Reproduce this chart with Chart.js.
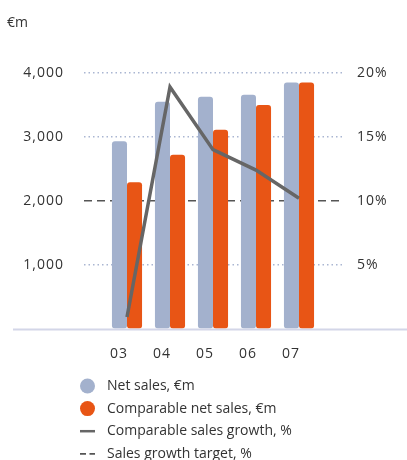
<!DOCTYPE html>
<html>
<head>
<meta charset="utf-8">
<script src="https://cdn.jsdelivr.net/npm/chart.js@4.4.1/dist/chart.umd.min.js"></script>
<style>
  html, body { margin: 0; padding: 0; background: #fff; }
  #wrap { position: relative; width: 407px; height: 460px; }
  #unit { position: absolute; left: 7px; top: 12px; font: 14px "Open Sans", sans-serif; color: #333; }
</style>
</head>
<body>
<div id="wrap">
  <canvas id="chart" width="407" height="460"></canvas>
  <div id="unit">€m</div>
</div>
<script>
// values
const years = ['03', '04', '05', '06', '07'];
const netSales = [2930, 3550, 3630, 3660, 3850];
const comparableNetSales = [2290, 2720, 3110, 3500, 3850];
const comparableGrowth = [0.9, 18.9, 14.0, 12.4, 10.2];
const growthTarget = [10, 10, 10, 10, 10];
const salesTicks = [1000, 2000, 3000, 4000];
const percentTicks = [5, 10, 15, 20];

const blue = '#a3b1cd';
const orange = '#e85515';
const gray = '#666666';

// empty category at each end so the target line runs past the bars
const pad = arr => [null, ...arr, null];
const padEdge = arr => [arr[0], ...arr, arr[arr.length - 1]];

Chart.defaults.font.family = '"Open Sans", sans-serif';
Chart.defaults.font.size = 14;
Chart.defaults.color = '#333';

const spacing = {
  id: 'spacing',
  beforeDraw(chart) { chart.ctx.letterSpacing = '1px'; },
  beforeDatasetsDraw(chart) {
    const ctx = chart.ctx;
    ctx.letterSpacing = '0px';
    // baseline, wider than the plot
    const y0 = chart.scales.y.getPixelForValue(0) + 1;
    ctx.save();
    ctx.strokeStyle = '#d3d6e8';
    ctx.lineWidth = 2;
    ctx.beginPath();
    ctx.moveTo(13, y0);
    ctx.lineTo(407, y0);
    ctx.stroke();
    ctx.restore();
  }
};

const legendRows = {
  id: 'legendRows',
  afterDraw(chart) {
    const ctx = chart.ctx;
    const order = [1, 2, 0, 3];
    ctx.save();
    ctx.letterSpacing = '0px';
    ctx.font = '14px "Open Sans", sans-serif';
    ctx.textBaseline = 'middle';
    order.forEach((di, row) => {
      const ds = chart.data.datasets[di];
      const y = 386 + row * 22.6;
      if (ds.type === 'line') {
        ctx.strokeStyle = ds.borderColor;
        ctx.lineWidth = ds.borderDash ? 1.8 : 2.5;
        ctx.setLineDash(ds.borderDash ? [6, 3.5] : []);
        ctx.beginPath();
        ctx.moveTo(80, y);
        ctx.lineTo(95, y);
        ctx.stroke();
        ctx.setLineDash([]);
      } else {
        ctx.fillStyle = ds.backgroundColor;
        ctx.beginPath();
        ctx.arc(87.5, y, 7.5, 0, Math.PI * 2);
        ctx.fill();
      }
      ctx.fillStyle = '#333';
      ctx.fillText(ds.label, 107, y);
    });
    ctx.restore();
  }
};

new Chart(document.getElementById('chart'), {
  type: 'bar',
  data: {
    labels: pad(years).map(v => v || ''),
    datasets: [
      {
        type: 'line',
        label: 'Comparable sales growth, %',
        data: pad(comparableGrowth),
        yAxisID: 'y2',
        borderColor: gray,
        borderWidth: 3.5,
        pointRadius: 0,
        tension: 0,
        order: 0
      },
      {
        label: 'Net sales, €m',
        data: pad(netSales),
        backgroundColor: blue,
        borderRadius: 3,
        borderSkipped: false,
        order: 1
      },
      {
        label: 'Comparable net sales, €m',
        data: pad(comparableNetSales),
        backgroundColor: orange,
        borderRadius: 3,
        borderSkipped: false,
        order: 1
      },
      {
        type: 'line',
        label: 'Sales growth target, %',
        data: padEdge(growthTarget),
        yAxisID: 'y2',
        borderColor: '#555',
        borderWidth: 1.5,
        borderDash: [8, 5],
        pointRadius: 0,
        order: 2
      }
    ]
  },
  options: {
    responsive: false,
    animation: false,
    categoryPercentage: 0.7,
    barPercentage: 1,
    layout: { padding: { top: 73, bottom: 91.5, left: 0, right: 0 } },
    plugins: { legend: { display: false }, tooltip: { enabled: false } },
    scales: {
      x: {
        offset: false,
        grid: { display: false },
        border: { display: false },
        ticks: { padding: 9, labelOffset: -8, autoSkip: false, maxRotation: 0 },
        afterFit: s => { s.height = 40; }
      },
      y: {
        position: 'left',
        min: 0,
        max: 4000,
        afterBuildTicks: s => { s.ticks = salesTicks.map(v => ({ value: v })); },
        grid: {
          drawTicks: false,
          lineWidth: 1.5,
          color: c => (c.tick && c.tick.value === 2000) ? 'rgba(0,0,0,0)' : '#aab6d2'
        },
        border: { display: false, dash: [1.5, 3] },
        ticks: { padding: 20, callback: v => v.toLocaleString('en-US') },
        afterFit: s => { s.width = 84; }
      },
      y2: {
        position: 'right',
        min: 0,
        max: 20,
        afterBuildTicks: s => { s.ticks = percentTicks.map(v => ({ value: v })); },
        grid: { drawOnChartArea: false, drawTicks: false },
        border: { display: false },
        ticks: { padding: 15, callback: v => v + '%' },
        afterFit: s => { s.width = 65; }
      }
    }
  },
  plugins: [spacing, legendRows]
});
</script>
</body>
</html>
